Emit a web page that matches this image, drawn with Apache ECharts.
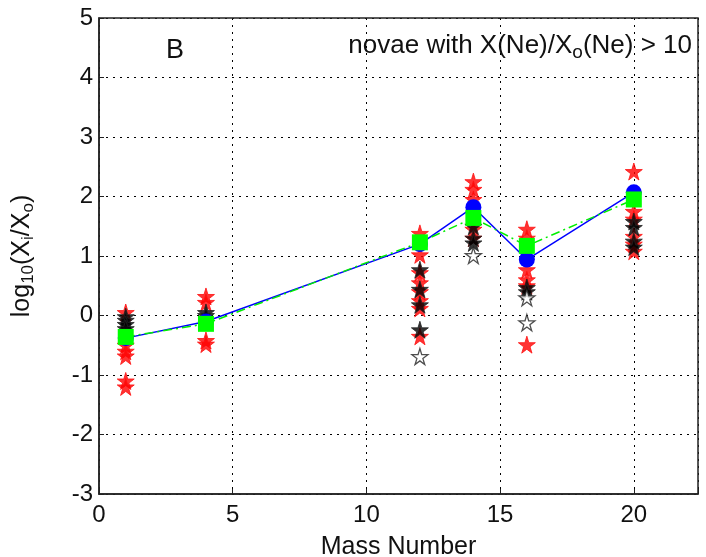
<!DOCTYPE html>
<html>
<head>
<meta charset="utf-8">
<script src="https://cdn.jsdelivr.net/npm/echarts@6/dist/echarts.min.js"></script>
<style>
  html, body { margin: 0; padding: 0; background: #fff; }
  #chart { width: 706px; height: 557px; }
</style>
</head>
<body>
<div id="chart"></div>
<script>
// mass numbers with a mean (blue) and a median (green) curve
const massNumbers = [1, 4, 12, 14, 16, 20]
const blueValues = [-0.38, -0.1, 1.2, 1.82, 0.94, 2.07]
const greenValues = [-0.36, -0.14, 1.23, 1.64, 1.17, 1.95]

// individual novae, [mass number, log10(Xi/Xo)]
const redStars = [
  [1, 0.05], [1, -0.5], [1, -0.6], [1, -0.68], [1, -1.1], [1, -1.2],
  [4, 0.32], [4, 0.22], [4, -0.42], [4, -0.48],
  [12, 1.38], [12, 1.02], [12, 0.72], [12, 0.55], [12, 0.4], [12, 0.25], [12, 0.12], [12, -0.35],
  [14, 2.25], [14, 2.12], [14, 1.95], [14, 1.45], [14, 1.3],
  [16, 1.45], [16, 1.3], [16, 0.77], [16, 0.6], [16, 0.5], [16, -0.49],
  [20, 2.42], [20, 1.75], [20, 1.62], [20, 1.33], [20, 1.2], [20, 1.08]
]
const blackStars = [
  [1, -0.02], [1, -0.08], [1, -0.15], [1, -0.22],
  [4, 0.05], [4, 0.0],
  [12, 0.77], [12, 0.44], [12, 0.18], [12, -0.24],
  [14, 1.5], [14, 1.3], [14, 1.22],
  [16, 0.47], [16, 0.4],
  [20, 1.58], [20, 1.48], [20, 1.25], [20, 1.15]
]
const hollowStars = [[12, -0.69], [14, 1.01], [16, 0.3], [16, -0.12]]

const xTicks = [0, 5, 10, 15, 20]
const yTicks = [-3, -2, -1, 0, 1, 2, 3, 4, 5]

const star = 'path://M50,0 L61,35 L98,35 L68,57 L79,91 L50,70 L21,91 L32,57 L2,35 L39,35 Z'
const font = 'Liberation Sans, Arial, sans-serif'

const chart = echarts.init(document.getElementById('chart'))

// gridlines dotted like matlab
const gridLine = { show: true, lineStyle: { color: '#000', type: [2, 5], width: 1 } }

const option = {
  animation: false,
  textStyle: { fontFamily: font },
  grid: { left: 99, right: 8, top: 18, bottom: 63, outerBoundsMode: 'none', containLabel: false },
  xAxis: {
    type: 'value', min: 0, max: 22.4, interval: 5,
    name: 'Mass Number', nameLocation: 'middle', nameGap: 41,
    nameTextStyle: { fontSize: 25, color: '#111', fontFamily: font },
    axisLine: { onZero: false, lineStyle: { color: '#222', width: 1.5 } },
    axisTick: { inside: true, length: 5, lineStyle: { color: '#222' } },
    axisLabel: {
      fontSize: 24, color: '#111', margin: 9,
      formatter: v => xTicks.includes(v) ? String(v) : ''
    },
    splitLine: gridLine
  },
  yAxis: {
    type: 'value', min: -3, max: 5, interval: 1,
    name: '{n|log}{s|10}{n|(X}{s|i}{n|/X}{s|o}{n|)}',
    nameLocation: 'middle', nameGap: 62, nameRotate: 90,
    nameTextStyle: {
      rich: {
        n: { fontSize: 25, color: '#111', fontFamily: font },
        s: { fontSize: 17, color: '#111', fontFamily: font, padding: [12, 0, 0, 0] }
      }
    },
    axisLine: { onZero: false, lineStyle: { color: '#222', width: 1.5 } },
    axisTick: { inside: true, length: 5, lineStyle: { color: '#222' } },
    axisLabel: {
      fontSize: 24, color: '#111', margin: 6,
      formatter: v => yTicks.includes(v) ? String(v) : ''
    },
    splitLine: gridLine
  },
  graphic: [
    // box frame on top and right
    { type: 'rect', shape: { x: 99, y: 18, width: 599, height: 476 }, style: { fill: 'none', stroke: '#222', lineWidth: 1.5 }, silent: true, z: 100 },
    { type: 'text', left: 166, top: 37, style: { text: 'B', font: '27px ' + font, fill: '#111' } },
    {
      type: 'text', right: 14, top: 33,
      style: {
        text: '{n|novae with X(Ne)/X}{s|o}{n|(Ne) > 10}',
        rich: {
          n: { fontSize: 26, fill: '#111', fontFamily: font },
          s: { fontSize: 19, fill: '#111', fontFamily: font, padding: [14, 0, 0, 0] }
        }
      }
    }
  ],
  series: [
    {
      type: 'scatter', data: redStars, symbol: star, symbolSize: 17,
      itemStyle: { color: '#ff0000', borderColor: '#ff1010', borderWidth: 1 }, z: 2
    },
    {
      type: 'scatter', data: blackStars, symbol: star, symbolSize: 17,
      itemStyle: { color: '#000', borderColor: '#222', borderWidth: 1 }, z: 3
    },
    {
      type: 'scatter', data: hollowStars, symbol: star, symbolSize: 16,
      itemStyle: { color: '#fff', borderColor: '#222', borderWidth: 1.3 }, z: 3
    },
    {
      type: 'line', data: massNumbers.map((m, i) => [m, blueValues[i]]),
      symbol: 'circle', symbolSize: 16,
      lineStyle: { color: '#0000ff', width: 1.5 },
      itemStyle: { color: '#0000ff' }, z: 4
    },
    {
      type: 'line', data: massNumbers.map((m, i) => [m, greenValues[i]]),
      symbol: 'rect', symbolSize: 16,
      lineStyle: { color: '#00ee00', width: 1.5, type: [9, 4, 2, 4] },
      itemStyle: { color: '#00ff00' }, z: 5
    }
  ]
}

chart.setOption(option)
</script>
</body>
</html>
